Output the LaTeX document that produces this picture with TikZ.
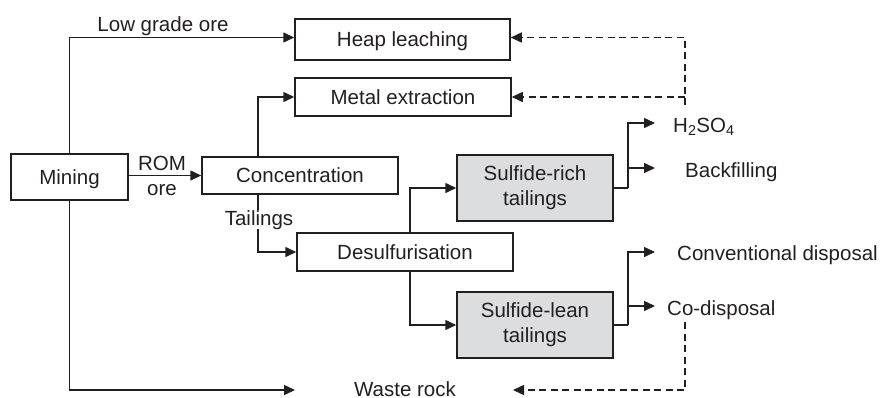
\documentclass[tikz,border=0pt]{standalone}
\usepackage{fontspec}
\setmainfont{Liberation Sans}
\usetikzlibrary{arrows.meta,calc}
\definecolor{ink}{RGB}{35,31,32}
\definecolor{shade}{RGB}{220,221,222}
\begin{document}
\begin{tikzpicture}[x=1pt,y=-1pt,
  every node/.style={font=\fontsize{20.5}{25}\selectfont, text=ink},
  box/.style={draw=ink, line width=1.5pt, inner sep=0pt, text height=14.7pt, text depth=0pt},
  gbox/.style={draw=ink, fill=shade, line width=1.5pt, inner sep=0pt, align=center},
  lbl/.style={anchor=base, inner sep=0pt},
  plain/.style={draw=ink, line width=1.5pt},
  arr/.style={draw=ink, line width=1.5pt, -{Triangle[length=11pt,width=10pt]}},
  darr/.style={arr, dash pattern=on 7pt off 4.5pt},
]
\useasboundingbox (0,0) rectangle (882,397);

% boxes
\node[box, minimum width=117pt, minimum height=46pt] (mining) at (69.5,177) {Mining};
\node[box, minimum width=215pt, minimum height=41pt] (heap) at (402.5,39.5) {Heap leaching};
\node[box, minimum width=216pt, minimum height=38pt] (metal) at (403,97) {Metal extraction};
\node[box, minimum width=196pt, minimum height=37pt] (conc) at (300,175.5) {Concentration};
\node[box, minimum width=216pt, minimum height=38pt] (desulf) at (405,252) {Desulfurisation};
\node[gbox, minimum width=156pt, minimum height=66pt] (rich) at (535,188) {Sulfide-rich\\tailings};
\node[gbox, minimum width=156pt, minimum height=66pt] (lean) at (535,325) {Sulfide-lean\\tailings};

% free labels
\node[lbl] (lowgrade) at (163,31) {Low grade ore};
\node[lbl] (rom) at (162,170) {ROM};
\node[lbl] (ore) at (162,195) {ore};
\node[lbl, anchor=base west] (h2so4) at (673,132) {H\textsubscript{2}SO\textsubscript{4}};
\node[lbl, anchor=base west] (backfill) at (685,177) {Backfilling};
\node[lbl, anchor=base west] (conv) at (677,260) {Conventional disposal};
\node[lbl, anchor=base west] (codisp) at (667,315) {Co-disposal};
\node[lbl] (waste) at (405,396) {Waste rock};

% connector end points
\coordinate (wastein) at (295,390);
\coordinate (wasteout) at (513,390);
\coordinate (h2in) at (655,123);
\coordinate (bfin) at (655,168);
\coordinate (convin) at (655,252);
\coordinate (coin) at (655,306);
\coordinate (dj) at (685,105);
\coordinate (cj) at (685,322);
\coordinate (rj) at ($(rich.east)+(14,0)$);
\coordinate (lj) at ($(lean.east)+(14,0)$);

% connectors
\draw[arr] (mining.north) |- ($(heap.west)+(0,-2)$);
\draw[arr] (mining.south) |- (wastein);
\draw[arr] (mining.east |- conc.west) -- (conc.west);
\draw[arr] ([xshift=-42pt]conc.north) |- (metal.west);
\draw[arr] ([xshift=-42pt]conc.south) |- (desulf.west);
\node[lbl, fill=white] (tail) at (259,225) {Tailings};
\draw[arr] ([xshift=5pt]desulf.north) |- (rich.west);
\draw[arr] ([xshift=5pt]desulf.south) |- (lean.west);

\draw[plain] (rich.east) -- (rj);
\draw[arr] (rj) |- (h2in);
\draw[arr] (rj) |- (bfin);
\draw[plain] (lean.east) -- (lj);
\draw[arr] (lj) |- (convin);
\draw[arr] (lj) |- (coin);

\draw[darr] (dj) |- ($(heap.east)+(0,-2)$);
\draw[darr] (dj |- metal.east) -- (metal.east);
\draw[darr] (cj) |- (wasteout);
\end{tikzpicture}
\end{document}
